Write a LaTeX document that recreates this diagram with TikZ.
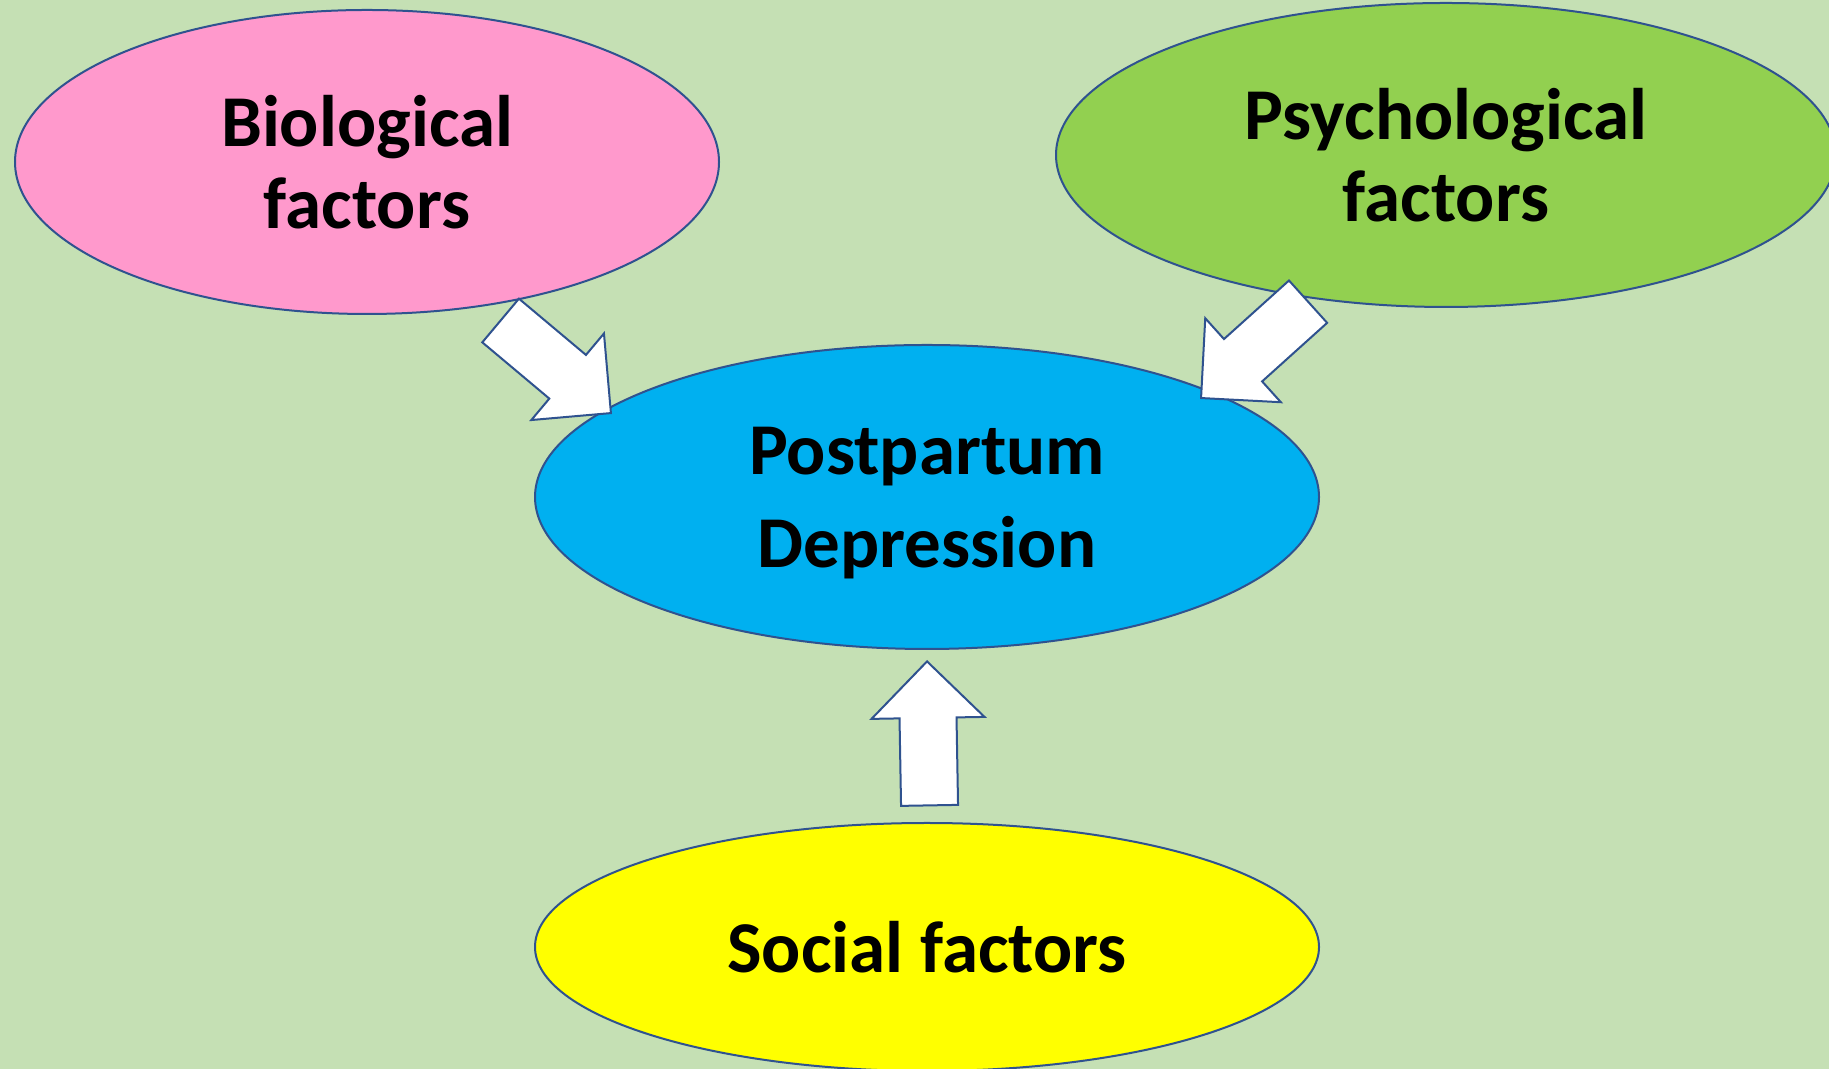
\documentclass[tikz,border=0pt]{standalone}
\usepackage{fontspec}
\setmainfont{Carlito}
\usetikzlibrary{shapes.geometric,shapes.arrows}

\definecolor{bggreen}{HTML}{C5E0B4}
\definecolor{edgeblue}{HTML}{2F528F}
\definecolor{biopink}{HTML}{FF99CC}
\definecolor{psygreen}{HTML}{92D050}
\definecolor{ppdblue}{HTML}{00B0F0}
\definecolor{socyellow}{HTML}{FFFF00}

\tikzset{
  factor/.style={ellipse, draw=edgeblue, line width=1pt, inner sep=0pt, align=center,
    text depth=0pt, font=\fontsize{36.5}{41}\selectfont\bfseries},
  bigarrow/.style={single arrow, draw=edgeblue, fill=white, line width=1pt,
    inner xsep=0pt, inner ysep=13.75pt, single arrow head extend=14pt,
    single arrow tip angle=90, minimum height=72pt, anchor=tip}
}

\begin{document}
\begin{tikzpicture}[x=0.5pt,y=0.5pt]

\useasboundingbox (0,0) rectangle (1829,1069);
\fill[bggreen] (0,0) rectangle (1829,1069);

% factors
\node[factor, fill=biopink, minimum width=352pt, minimum height=152pt] (bio) at (367,907) {Biological\\factors};
\node[factor, fill=psygreen, minimum width=390pt, minimum height=152pt] (psy) at (1446,914) {Psychological\\factors};
\node[factor, fill=ppdblue, minimum width=392pt, minimum height=152pt,
  font=\fontsize{36.5}{46.5}\selectfont\bfseries] (ppd) at (927,572) {Postpartum\\Depression};
\node[factor, fill=socyellow, minimum width=392pt, minimum height=124pt] (soc) at (927,122) {Social factors};

% arrows
\node[bigarrow, rotate=-40] (bioarrow) at (612,655) {};
\node[bigarrow, rotate=-138] (psyarrow) at (1200,670) {};
\node[bigarrow, rotate=91] (socarrow) at (927,409) {};

\end{tikzpicture}
\end{document}
